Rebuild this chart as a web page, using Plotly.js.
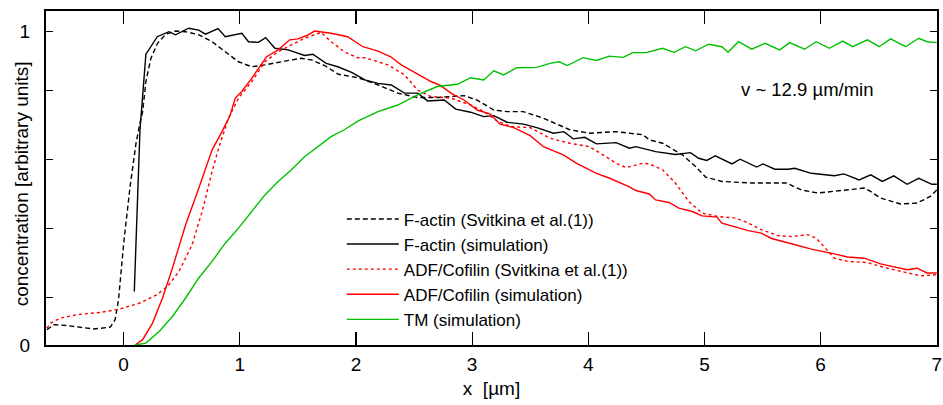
<!DOCTYPE html>
<html>
<head>
<meta charset="utf-8">
<script src="https://cdn.plot.ly/plotly-3.0.1.min.js"></script>
<style>
html,body{margin:0;padding:0;background:#fff;}
#chart{width:943px;height:405px;}
</style>
</head>
<body>
<div id="chart"></div>
<script>
// ---- data ----
var faExpX = [-0.66,-0.6,-0.485,-0.258,-0.115,-0.073,-0.044,0.004,0.056,0.107,0.141,0.164,0.192,0.235,0.292,0.363,0.448,0.533,0.647,0.762,0.875,0.989,1.103,1.217,1.388,1.53,1.616,1.73,1.849,2.02,2.19,2.36,2.53,2.70,2.93,3.04,3.187,3.30,3.44,3.614,3.84,4.01,4.24,4.47,4.525,4.64,4.81,4.923,5.01,5.15,5.407,5.706,5.834,5.976,6.176,6.375,6.43,6.517,6.688,6.83,6.944,7.0];
var faExpY = [0.049,0.065,0.062,0.051,0.057,0.081,0.144,0.336,0.506,0.644,0.708,0.745,0.841,0.915,0.963,0.992,1.002,1.0,0.99,0.968,0.936,0.904,0.888,0.894,0.906,0.915,0.91,0.892,0.864,0.853,0.83,0.804,0.79,0.79,0.796,0.782,0.75,0.745,0.745,0.724,0.687,0.676,0.681,0.671,0.655,0.644,0.607,0.57,0.536,0.522,0.517,0.517,0.495,0.485,0.493,0.501,0.49,0.469,0.45,0.453,0.474,0.495];

var faSimX = [0.092,0.141,0.192,0.29,0.39,0.447,0.56,0.647,0.705,0.813,0.875,1.018,1.075,1.16,1.223,1.302,1.416,1.558,1.629,1.744,1.843,1.963,2.077,2.19,2.304,2.418,2.532,2.617,2.76,2.859,2.987,3.10,3.187,3.30,3.443,3.557,3.70,3.79,3.87,3.97,4.07,4.24,4.354,4.41,4.58,4.75,4.88,4.95,5.02,5.094,5.237,5.307,5.45,5.504,5.606,5.72,5.777,5.92,6.119,6.2,6.332,6.432,6.531,6.63,6.745,6.845,6.958,7.0];
var faSimY = [0.171,0.686,0.928,0.984,1.0,0.99,1.011,1.005,0.992,1.01,0.984,0.995,0.968,0.966,0.981,0.947,0.942,0.924,0.928,0.899,0.888,0.870,0.846,0.835,0.830,0.804,0.804,0.779,0.782,0.753,0.743,0.729,0.732,0.711,0.705,0.694,0.676,0.681,0.658,0.663,0.642,0.646,0.628,0.633,0.617,0.608,0.614,0.596,0.589,0.604,0.578,0.593,0.568,0.578,0.561,0.561,0.564,0.548,0.54,0.546,0.527,0.543,0.522,0.54,0.513,0.532,0.513,0.513];

var adfExpX = [-0.66,-0.628,-0.542,-0.40,-0.20,-0.03,0.141,0.284,0.383,0.477,0.59,0.676,0.762,0.818,0.903,0.989,1.103,1.217,1.33,1.445,1.558,1.70,1.786,1.90,2.014,2.077,2.276,2.418,2.53,2.646,2.817,2.987,3.10,3.215,3.33,3.50,3.67,3.84,4.01,4.126,4.24,4.325,4.468,4.525,4.64,4.75,4.866,4.98,5.12,5.265,5.35,5.49,5.634,5.75,5.89,5.962,6.033,6.119,6.232,6.403,6.574,6.746,6.859,7.0];
var adfExpY = [0.054,0.07,0.086,0.097,0.104,0.115,0.134,0.16,0.189,0.235,0.32,0.426,0.554,0.628,0.724,0.788,0.841,0.904,0.936,0.958,0.979,0.998,0.968,0.936,0.917,0.917,0.894,0.862,0.814,0.793,0.788,0.766,0.745,0.715,0.697,0.694,0.66,0.644,0.633,0.607,0.58,0.566,0.58,0.578,0.559,0.517,0.458,0.421,0.41,0.405,0.394,0.368,0.349,0.346,0.352,0.341,0.312,0.277,0.267,0.263,0.245,0.23,0.221,0.224];

var adfSimX = [0.098,0.164,0.249,0.335,0.42,0.534,0.647,0.762,0.847,0.918,0.961,1.018,1.103,1.231,1.33,1.43,1.50,1.573,1.644,1.786,1.928,2.06,2.19,2.30,2.39,2.50,2.646,2.73,2.817,2.93,3.044,3.158,3.24,3.358,3.50,3.614,3.785,3.90,4.07,4.18,4.354,4.41,4.525,4.58,4.695,4.78,4.895,4.98,5.108,5.15,5.265,5.378,5.49,5.578,5.75,5.92,6.119,6.232,6.375,6.517,6.745,6.83,6.916,7.0];
var adfSimY = [0,0.017,0.07,0.15,0.245,0.384,0.50,0.623,0.681,0.734,0.788,0.809,0.851,0.92,0.942,0.974,0.977,0.987,1.002,0.995,0.984,0.952,0.938,0.92,0.894,0.872,0.841,0.828,0.804,0.782,0.75,0.737,0.705,0.694,0.668,0.633,0.607,0.58,0.548,0.533,0.505,0.493,0.482,0.463,0.455,0.437,0.426,0.412,0.408,0.389,0.378,0.365,0.357,0.34,0.323,0.306,0.291,0.281,0.277,0.259,0.24,0.245,0.23,0.23];

var tmSimX = [0.098,0.192,0.306,0.42,0.534,0.647,0.762,0.875,0.989,1.103,1.217,1.33,1.445,1.558,1.672,1.786,1.90,2.02,2.19,2.36,2.53,2.70,2.873,2.987,3.10,3.187,3.27,3.386,3.557,3.67,3.75,3.82,3.955,4.07,4.18,4.30,4.384,4.5,4.64,4.738,4.838,4.923,5.037,5.15,5.203,5.293,5.407,5.52,5.649,5.734,5.862,5.962,6.076,6.19,6.275,6.404,6.504,6.603,6.731,6.845,6.916,7.0];
var tmSimY = [0,0.006,0.043,0.091,0.15,0.214,0.267,0.325,0.373,0.426,0.479,0.522,0.559,0.601,0.633,0.665,0.687,0.715,0.745,0.766,0.798,0.825,0.832,0.853,0.846,0.875,0.862,0.885,0.886,0.899,0.904,0.892,0.917,0.908,0.922,0.918,0.933,0.933,0.947,0.934,0.952,0.939,0.96,0.952,0.934,0.968,0.944,0.963,0.942,0.965,0.944,0.968,0.947,0.970,0.952,0.974,0.952,0.977,0.952,0.979,0.968,0.965];

var seriesNames = ['F-actin (Svitkina et al.(1))','F-actin (simulation)','ADF/Cofilin (Svitkina et al.(1))','ADF/Cofilin (simulation)','TM (simulation)'];
var xTickVals = [0,1,2,3,4,5,6,7];
var xTickText = ['0','1','2','3','4','5','6','7'];
var yTickVals = [0,0.151,0.371,0.591,0.812,1];
var yTickText = ['0','','','','','1'];
var xTitle = 'x\u00a0 [µm]';
var yTitle = 'concentration [arbitrary units]';
var annotationText = 'v ~ 12.9 µm/min';

var FONT = 'Liberation Sans, Arial, Helvetica, sans-serif';

var traces = [
  {x: faExpX, y: faExpY, name: seriesNames[0], mode: 'lines', line: {color: '#000000', width: 1.4, dash: '5px,3px'}},
  {x: faSimX, y: faSimY, name: seriesNames[1], mode: 'lines', line: {color: '#000000', width: 1.4}},
  {x: adfExpX, y: adfExpY, name: seriesNames[2], mode: 'lines', line: {color: '#ff0000', width: 1.4, dash: '3px,3px'}},
  {x: adfSimX, y: adfSimY, name: seriesNames[3], mode: 'lines', line: {color: '#ff0000', width: 1.4}},
  {x: tmSimX, y: tmSimY, name: seriesNames[4], mode: 'lines', line: {color: '#00c000', width: 1.4}}
];

var layout = {
  width: 943, height: 405,
  margin: {l: 46, r: 6, t: 11, b: 60},
  paper_bgcolor: '#ffffff', plot_bgcolor: '#ffffff',
  font: {family: FONT, color: '#000000', size: 19},
  showlegend: true,
  legend: {
    x: 0.332, y: 0.43, xanchor: 'left', yanchor: 'top',
    bgcolor: 'rgba(0,0,0,0)', borderwidth: 0,
    font: {family: FONT, size: 17, color: '#000'},
    itemwidth: 52, tracegroupgap: 0
  },
  xaxis: {
    range: [-0.668, 7.002],
    tickmode: 'array', tickvals: xTickVals, ticktext: xTickText,
    ticks: 'inside', ticklen: 13, tickwidth: 1.2, tickcolor: '#000',
    showline: true, linecolor: '#000', linewidth: 2, mirror: 'ticks',
    showgrid: false, zeroline: false,
    tickfont: {family: FONT, size: 19},
    ticklabelstandoff: 1,
    ticklabeloverflow: 'allow',
    title: {text: xTitle, font: {family: FONT, size: 19}, standoff: 8}
  },
  yaxis: {
    range: [0, 1.066],
    tickmode: 'array', tickvals: yTickVals, ticktext: yTickText,
    ticks: 'inside', ticklen: 7, tickwidth: 1.2, tickcolor: '#000',
    showline: true, linecolor: '#000', linewidth: 2, mirror: 'ticks',
    showgrid: false, zeroline: false,
    tickfont: {family: FONT, size: 19},
    ticklabelstandoff: 10
  },
  annotations: [
    {x: -0.0271, y: 0.4835, xref: 'paper', yref: 'paper', text: yTitle, textangle: -90, showarrow: false,
     font: {family: FONT, size: 19, color: '#000'}, xanchor: 'center', yanchor: 'middle'},
    {x: 5.89, y: 0.814, xref: 'x', yref: 'y', text: annotationText, showarrow: false,
     font: {family: FONT, size: 18.5, color: '#000'}, xanchor: 'center', yanchor: 'middle'}
  ]
};

Plotly.newPlot('chart', traces, layout, {displayModeBar: false, staticPlot: true});
</script>
</body>
</html>
